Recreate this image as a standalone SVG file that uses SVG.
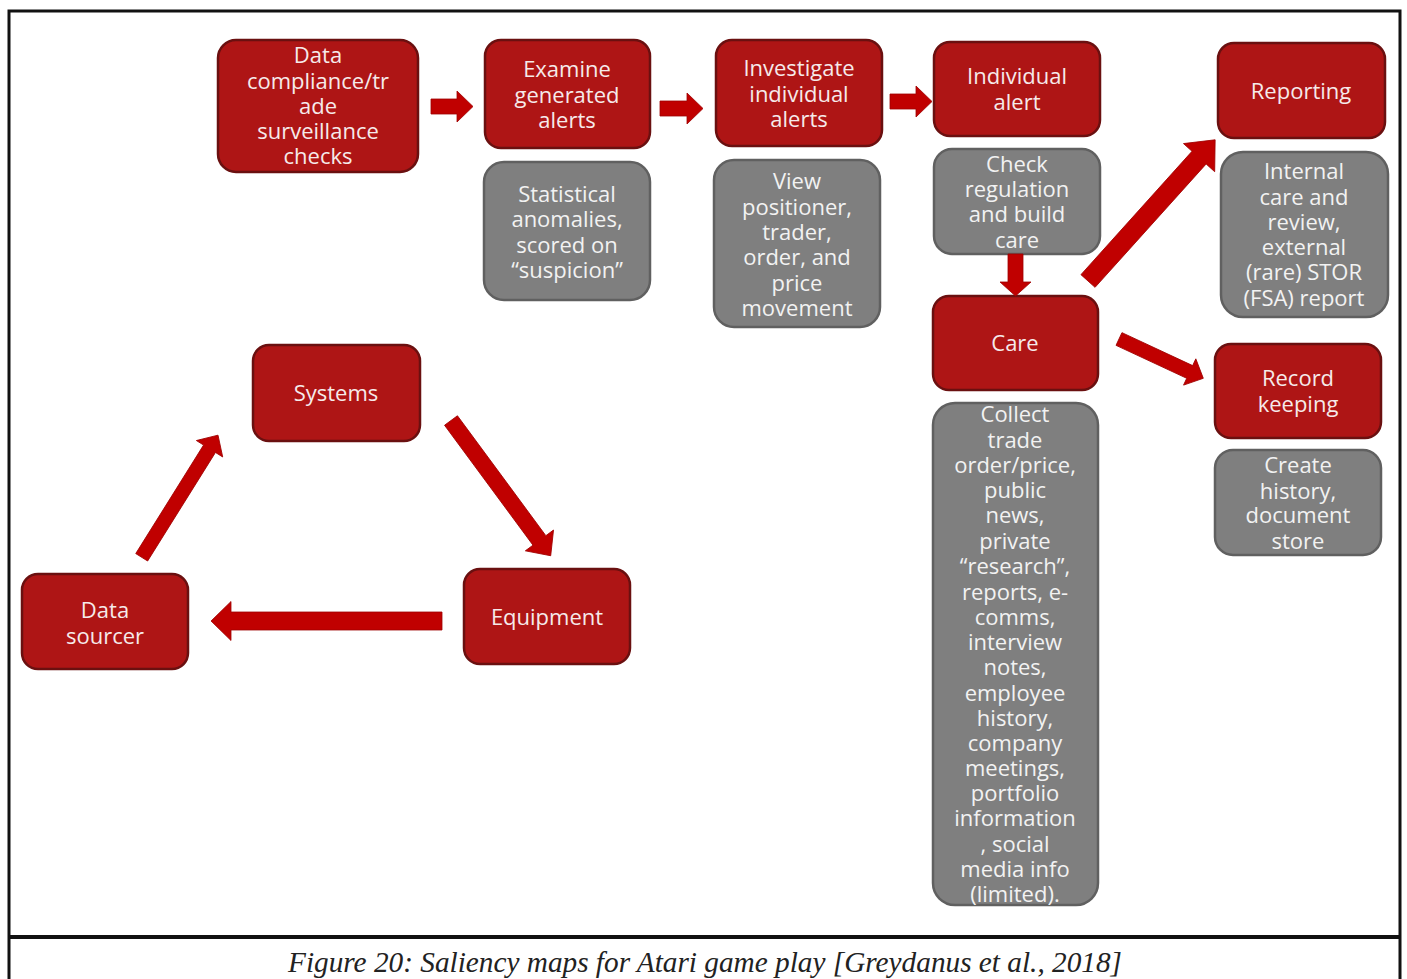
<svg xmlns="http://www.w3.org/2000/svg" width="1407" height="979" viewBox="0 0 1407 979">
<style>
.r{fill:#ae1515;stroke:#6a1010;stroke-width:2.5}
.g{fill:#7f7f7f;stroke:#606060;stroke-width:2.5}
.t{font-family:"Open Sans","DejaVu Sans",sans-serif;font-size:22px;fill:#f6eaea;text-anchor:middle}
.tg{font-family:"Open Sans","DejaVu Sans",sans-serif;font-size:22px;fill:#f2f2f2;text-anchor:middle}
.a{fill:#c00000;stroke:#a00000;stroke-width:0.8}
</style>
<rect x="0" y="0" width="1407" height="979" fill="#ffffff"/>
<g id="frame" fill="none" stroke="#111">
<path d="M9,979 V11 H1400 V979" stroke-width="3"/>
<line x1="8" y1="937" x2="1401" y2="937" stroke-width="4"/>
</g>
<text x="705" y="972" font-family="Liberation Serif,serif" font-style="italic" font-size="29" fill="#222" text-anchor="middle" textLength="834" lengthAdjust="spacingAndGlyphs">Figure 20: Saliency maps for Atari game play [Greydanus et al., 2018]</text>

<g id="n-data-compliance"><rect class="r" x="218" y="40" width="200" height="132" rx="18"/>
<text class="t"><tspan x="318" y="63">Data</tspan><tspan x="318" y="89">compliance/tr</tspan><tspan x="318" y="114">ade</tspan><tspan x="318" y="139">surveillance</tspan><tspan x="318" y="164">checks</tspan></text></g>
<g id="n-examine"><rect class="r" x="485" y="40" width="165" height="108" rx="16"/>
<text class="t"><tspan x="567" y="77">Examine</tspan><tspan x="567" y="103">generated</tspan><tspan x="567" y="128">alerts</tspan></text></g>
<g id="n-investigate"><rect class="r" x="716" y="40" width="166" height="106" rx="16"/>
<text class="t"><tspan x="799" y="76">Investigate</tspan><tspan x="799" y="102">individual</tspan><tspan x="799" y="127">alerts</tspan></text></g>
<g id="n-individual"><rect class="r" x="934" y="42" width="166" height="94" rx="16"/>
<text class="t"><tspan x="1017" y="84">Individual</tspan><tspan x="1017" y="110">alert</tspan></text></g>
<g id="n-reporting"><rect class="r" x="1218" y="43" width="167" height="95" rx="16"/>
<text class="t"><tspan x="1301" y="99">Reporting</tspan></text></g>

<g id="n-statistical"><rect class="g" x="484" y="162" width="166" height="138" rx="20"/>
<text class="tg"><tspan x="567" y="202">Statistical</tspan><tspan x="567" y="227">anomalies,</tspan><tspan x="567" y="253">scored on</tspan><tspan x="567" y="278">“suspicion”</tspan></text></g>
<g id="n-view"><rect class="g" x="714" y="160" width="166" height="167" rx="20"/>
<text class="tg"><tspan x="797" y="189">View</tspan><tspan x="797" y="215">positioner,</tspan><tspan x="797" y="240">trader,</tspan><tspan x="797" y="265">order, and</tspan><tspan x="797" y="291">price</tspan><tspan x="797" y="316">movement</tspan></text></g>
<g id="n-check"><rect class="g" x="934" y="149" width="166" height="105" rx="18"/>
<text class="tg"><tspan x="1017" y="172">Check</tspan><tspan x="1017" y="197">regulation</tspan><tspan x="1017" y="222">and build</tspan><tspan x="1017" y="248">care</tspan></text></g>
<g id="n-care"><rect class="r" x="933" y="296" width="165" height="94" rx="16"/>
<text class="t"><tspan x="1015" y="351">Care</tspan></text></g>
<g id="n-internal"><rect class="g" x="1221" y="152" width="167" height="165" rx="22"/>
<text class="tg"><tspan x="1304" y="179">Internal</tspan><tspan x="1304" y="205">care and</tspan><tspan x="1304" y="230">review,</tspan><tspan x="1304" y="255">external</tspan><tspan x="1304" y="280">(rare) STOR</tspan><tspan x="1304" y="306">(FSA) report</tspan></text></g>
<g id="n-record"><rect class="r" x="1215" y="344" width="166" height="94" rx="16"/>
<text class="t"><tspan x="1298" y="386">Record</tspan><tspan x="1298" y="412">keeping</tspan></text></g>
<g id="n-create"><rect class="g" x="1215" y="450" width="166" height="105" rx="18"/>
<text class="tg"><tspan x="1298" y="473">Create</tspan><tspan x="1298" y="499">history,</tspan><tspan x="1298" y="523">document</tspan><tspan x="1298" y="549">store</tspan></text></g>
<g id="n-collect"><rect class="g" x="933" y="403" width="165" height="502" rx="22"/>
<text class="tg"><tspan x="1015" y="422">Collect</tspan><tspan x="1015" y="448">trade</tspan><tspan x="1015" y="473">order/price,</tspan><tspan x="1015" y="498">public</tspan><tspan x="1015" y="523">news,</tspan><tspan x="1015" y="549">private</tspan><tspan x="1015" y="574">“research”,</tspan><tspan x="1015" y="600">reports, e-</tspan><tspan x="1015" y="625">comms,</tspan><tspan x="1015" y="650">interview</tspan><tspan x="1015" y="675">notes,</tspan><tspan x="1015" y="701">employee</tspan><tspan x="1015" y="726">history,</tspan><tspan x="1015" y="751">company</tspan><tspan x="1015" y="776">meetings,</tspan><tspan x="1015" y="801">portfolio</tspan><tspan x="1015" y="826">information</tspan><tspan x="1015" y="852">, social</tspan><tspan x="1015" y="877">media info</tspan><tspan x="1015" y="902">(limited).</tspan></text></g>

<g id="n-systems"><rect class="r" x="253" y="345" width="167" height="96" rx="16"/>
<text class="t"><tspan x="336" y="401">Systems</tspan></text></g>
<g id="n-data-sourcer"><rect class="r" x="22" y="574" width="166" height="95" rx="16"/>
<text class="t"><tspan x="105" y="618">Data</tspan><tspan x="105" y="644">sourcer</tspan></text></g>
<g id="n-equipment"><rect class="r" x="464" y="569" width="166" height="95" rx="16"/>
<text class="t"><tspan x="547" y="625">Equipment</tspan></text></g>

<g id="connectors">
<polygon class="a" points="431,99 457,99 457,91 473,106.5 457,122 457,114 431,114"/>
<polygon class="a" points="660,101 687,101 687,93 703,108.5 687,124 687,116 660,116"/>
<polygon class="a" points="890,94 916,94 916,86 932,101.5 916,117 916,109 890,109"/>
<polygon class="a" points="1008,254 1023,254 1023,282 1031,282 1015.5,296 1000,282 1008,282"/>
<polygon class="a" transform="translate(1088,281) rotate(-48)" points="0,-9.5 166,-9.5 166,-21 190,0 166,21 166,9.5 0,9.5"/>
<polygon class="a" transform="translate(1119,339) rotate(25)" points="0,-7 78,-7 78,-14.5 93,0 78,14.5 78,7 0,7"/>
<polygon class="a" transform="translate(451,420.5) rotate(53.6)" points="0,-8 149,-8 149,-17.5 168,0 149,17.5 149,8 0,8"/>
<polygon class="a" transform="translate(141.7,557.3) rotate(-58)" points="0,-7 128,-7 128,-15.5 144,0 128,15.5 128,7 0,7"/>
<polygon class="a" points="442,612 231,612 231,601.5 211,621 231,640.5 231,630 442,630"/>
</g>
</svg>
